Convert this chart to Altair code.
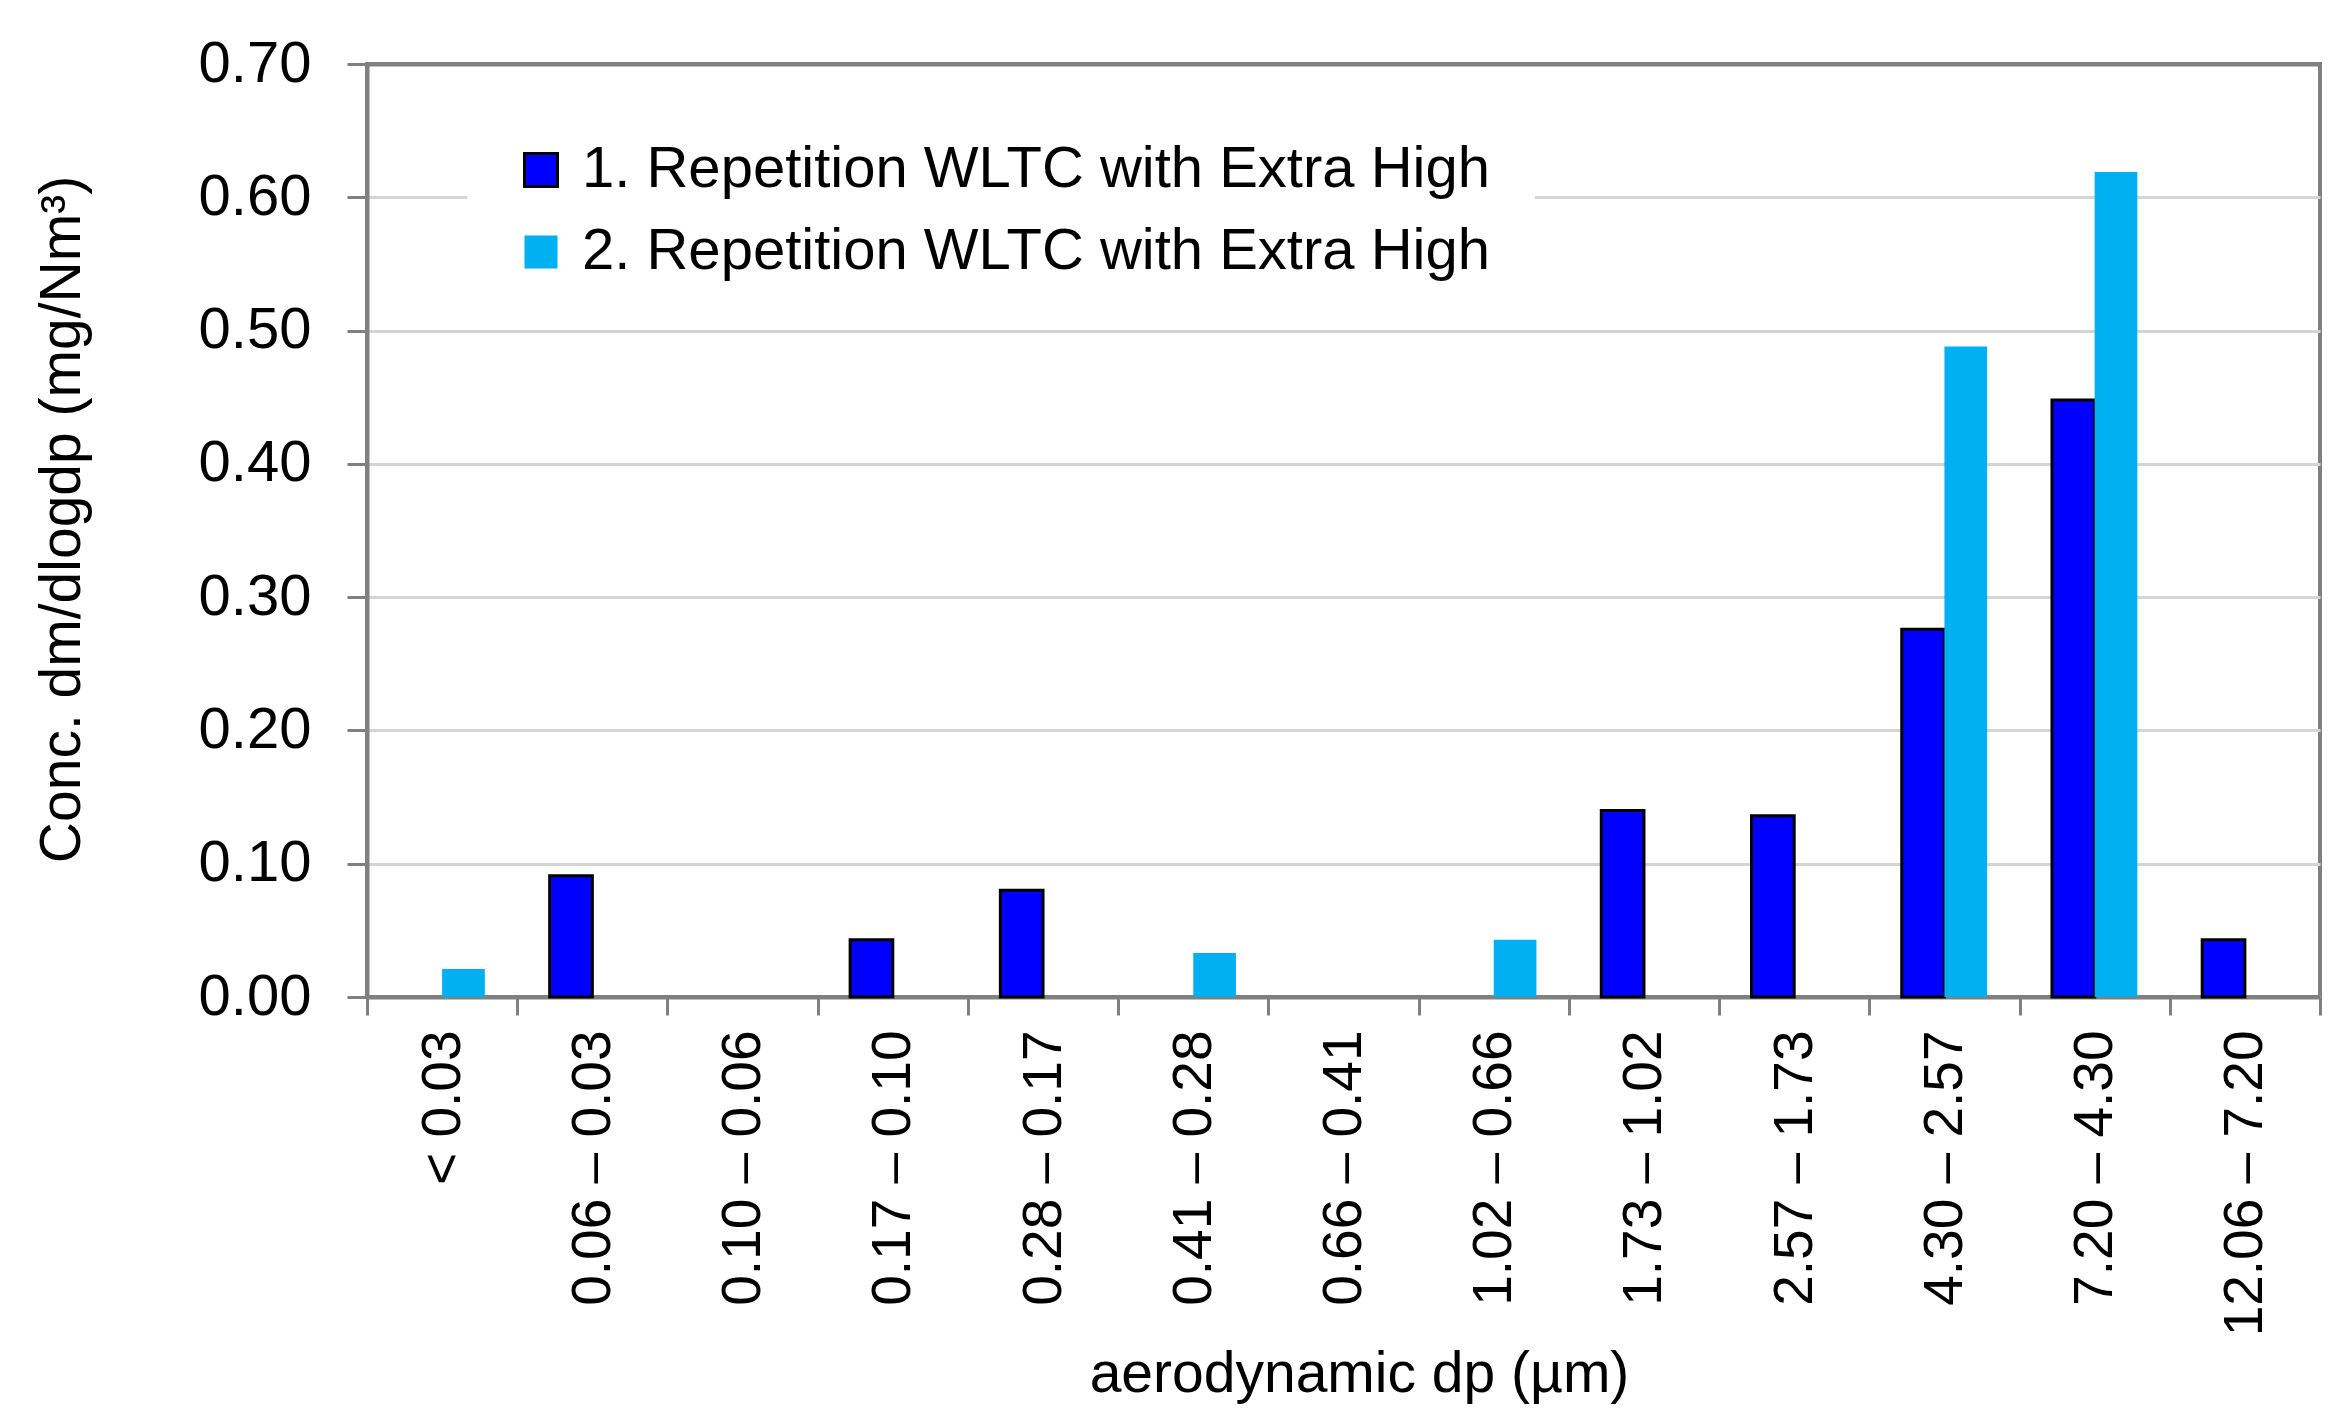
import altair as alt
import pandas as pd

categories = ["< 0.03", "0.06 – 0.03", "0.10 – 0.06", "0.17 – 0.10", "0.28 – 0.17",
              "0.41 – 0.28", "0.66 – 0.41", "1.02 – 0.66", "1.73 – 1.02", "2.57 – 1.73",
              "4.30 – 2.57", "7.20 – 4.30", "12.06 – 7.20"]
series = ["1. Repetition WLTC with Extra High", "2. Repetition WLTC with Extra High"]
rep1 = [None, 0.091, None, 0.043, 0.080, None, None, None, 0.140, 0.136, 0.276, 0.448, 0.043]
rep2 = [0.021, None, None, None, None, 0.033, None, 0.043, None, None, 0.488, 0.619, None]
y_ticks = [0.0, 0.1, 0.2, 0.3, 0.4, 0.5, 0.6, 0.7]

rows = []
for i, c in enumerate(categories):
    if rep1[i] is not None:
        rows.append({"size": c, "series": series[0], "value": rep1[i]})
    if rep2[i] is not None:
        rows.append({"size": c, "series": series[1], "value": rep2[i]})
df = pd.DataFrame(rows)

FONT = "Liberation Sans"

legend = alt.Legend(
    title=None, orient="none", legendX=100, legendY=32,
    fillColor="white", padding=45, symbolType="square", symbolSize=1089,
    symbolStrokeWidth=3, labelFontSize=58, labelFont=FONT, labelColor="black",
    labelOffset=12, rowPadding=24, labelLimit=3000,
)

chart = alt.Chart(df).mark_bar(strokeWidth=3).encode(
    x=alt.X("size:N", sort=categories,
            scale=alt.Scale(domain=categories, paddingInner=0, paddingOuter=0),
            axis=alt.Axis(title="aerodynamic dp (µm)", labelAngle=-90, tickBand="extent",
                          labelFontSize=55, labelLimit=2000, tickSize=18, tickWidth=3,
                          tickColor="#808080", domainColor="#808080", domainWidth=4,
                          labelPadding=15, titleFontSize=57, titleX=992, titleY=377,
                          titleBaseline="middle", grid=False)),
    xOffset=alt.XOffset("series:N",
                        scale=alt.Scale(domain=series, paddingOuter=0.76, paddingInner=0)),
    y=alt.Y("value:Q", scale=alt.Scale(domain=[0, 0.7], nice=False),
            axis=alt.Axis(title="Conc. dm/dlogdp (mg/Nm³)", values=y_ticks, format=".2f",
                          labelFontSize=58, tickSize=20, tickWidth=3, tickColor="#808080",
                          domainColor="#808080", domainWidth=4, labelPadding=36,
                          titleFontSize=57, titleX=-276, titleY=455,
                          gridColor=alt.condition("datum.value > 0.65", alt.value("#808080"), alt.value("#d4d4d4")),
                          gridWidth=alt.condition("datum.value > 0.65", alt.value(4), alt.value(3)))),
    fill=alt.Fill("series:N", scale=alt.Scale(domain=series, range=["#0000FF", "#00B0F0"]),
                  legend=legend),
    stroke=alt.Stroke("series:N", scale=alt.Scale(domain=series, range=["#000000", "transparent"]),
                      legend=legend),
).properties(
    width=1953, height=933,
    autosize=alt.AutoSizeParams(type="none"),
    padding={"left": 359, "top": 56, "right": 11, "bottom": 414},
    background="white",
).configure_axis(
    labelFont=FONT, titleFont=FONT, labelColor="black", titleColor="black",
    titleFontWeight="normal",
).configure_view(stroke="#808080", strokeWidth=4)

chart.save("out.html", embed_options={"renderer": "svg", "actions": False})
